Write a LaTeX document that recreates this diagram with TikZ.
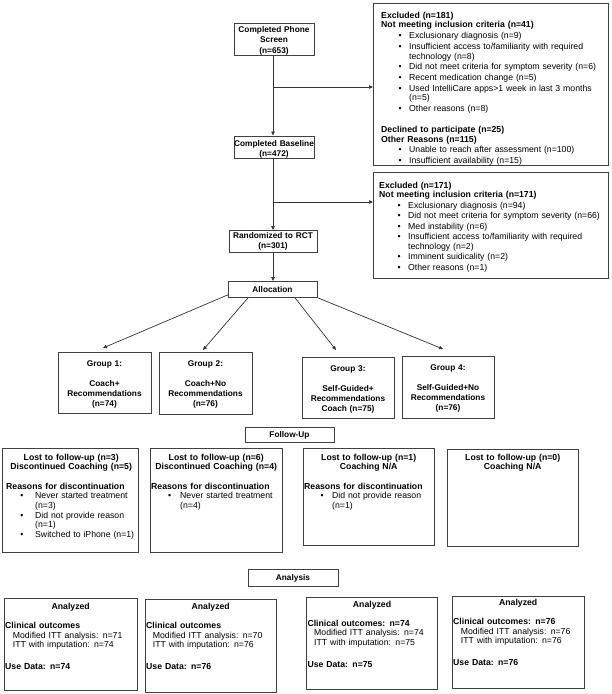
\documentclass[tikz,border=0pt]{standalone}
\usepackage{fontspec}
\setmainfont{Liberation Sans}
\usetikzlibrary{calc,arrows.meta}
\setlength{\parindent}{0pt}
\newlength\bleft \newlength\bgap \newlength\itemgap
\newcommand\bset[3]{\setlength\bleft{#1}\setlength\bgap{#2}\setlength\itemgap{#3}}
\newcommand\bitem[1]{\par\vskip\itemgap{\leftskip=\bleft\relax\noindent\llap{\textbullet\hspace{\bgap}}#1\par}}
\begin{document}
\begin{tikzpicture}[x=1pt,y=-1pt,
  box/.style={draw=black!75,line width=0.8pt,inner sep=0pt,anchor=north west},
  ctx/.style={inner sep=0pt,anchor=base,align=center,text width=110pt,font=\fontsize{8.3}{10.3}\selectfont\bfseries},
  gtx/.style={inner sep=0pt,anchor=base,align=center,text width=90pt,font=\fontsize{8.3}{10}\selectfont\bfseries},
  ltx/.style={inner sep=0pt,anchor=base west,align=left,font=\fontsize{8.7}{9.7}\selectfont},
  atx/.style={inner sep=0pt,anchor=base west,align=left,font=\fontsize{8.7}{9.5}\selectfont},
  arr/.style={draw=black!80,line width=0.7pt,-{Triangle[length=4pt,width=3.5pt]}},
  ln/.style={draw=black!80,line width=0.7pt}]
\useasboundingbox (0,0) rectangle (611,694);

% ---------- main column ----------
\node[box,minimum width=80pt,minimum height=32pt] (phone) at (234,23) {};
\node[ctx] (phonet) at (274,32.5) {Completed Phone\\Screen\\(n=653)};

\node[box,minimum width=80pt,minimum height=22pt] (base) at (234,135.5) {};
\node[ctx,font=\fontsize{8.3}{9.4}\selectfont\bfseries] (baset) at (274,146.6) {Completed Baseline\\(n=472)};

\node[box,minimum width=88pt,minimum height=22pt] (rand) at (229,230) {};
\node[ctx,font=\fontsize{8.3}{9.4}\selectfont\bfseries] (randt) at (273,238.8) {Randomized to RCT\\(n=301)};

\node[box,minimum width=89pt,minimum height=16pt] (alloc) at (228,281) {};
\node[ctx] (alloct) at (272.5,292) {Allocation};

% ---------- exclusion boxes ----------
\node[box,minimum width=235pt,minimum height=162pt] (ex1) at (373,3) {};
\node[ltx,text width=225pt] (ex1t) at (381,18.2) {\bset{28pt}{7.5pt}{1pt}%
\textbf{Excluded (n=181)}\par
\textbf{Not meeting inclusion criteria (n=41)}
\bitem{Exclusionary diagnosis (n=9)}
\bitem{Insufficient access to/familiarity with required\newline technology (n=8)}
\bitem{Did not meet criteria for symptom severity (n=6)}
\bitem{Recent medication change (n=5)}
\bitem{Used IntelliCare apps>1 week in last 3 months\newline (n=5)}
\bitem{Other reasons (n=8)}
\vskip 11.3pt
\textbf{Declined to participate (n=25)}\par
\textbf{Other Reasons (n=115)}
\bitem{Unable to reach after assessment (n=100)}
\bitem{Insufficient availability (n=15)}};

\node[box,minimum width=235pt,minimum height=106pt] (ex2) at (373,172) {};
\node[ltx,text width=226pt] (ex2t) at (379,188) {\bset{29pt}{7.5pt}{0.8pt}%
\textbf{Excluded (n=171)}\par
\textbf{Not meeting inclusion criteria (n=171)}
\bitem{Exclusionary diagnosis (n=94)}
\bitem{Did not meet criteria for symptom severity (n=66)}
\bitem{Med instability (n=6)}
\bitem{Insufficient access to/familiarity with required\newline technology (n=2)}
\bitem{Imminent suidicality (n=2)}
\bitem{Other reasons (n=1)}};

% ---------- connectors, top ----------
\coordinate (b1) at (273,87);
\coordinate (b2) at (273,202);
\draw[arr] (phone.south -| b1) -- (base.north -| b1);
\draw[arr] (b1) -- (b1 -| ex1.west);
\draw[arr] (base.south -| b1) -- (rand.north -| b1);
\draw[arr] (b2) -- (b2 -| ex2.west);
\draw[arr] (rand.south -| b1) -- (alloc.north -| b1);

% ---------- groups ----------
\node[box,minimum width=93pt,minimum height=61pt] (g1) at (58,352) {};
\node[gtx] (g1t) at (104.5,366) {Group 1:\\[10pt]Coach+\\Recommendations\\(n=74)};
\node[box,minimum width=93pt,minimum height=62pt] (g2) at (159,352) {};
\node[gtx] (g2t) at (205.5,366) {Group 2:\\[10pt]Coach+No\\Recommendations\\(n=76)};
\node[box,minimum width=92pt,minimum height=61pt] (g3) at (302,357) {};
\node[gtx] (g3t) at (348,371.3) {Group 3:\\[10pt]Self-Guided+\\Recommendations\\Coach (n=75)};
\node[box,minimum width=92pt,minimum height=62pt] (g4) at (402,356) {};
\node[gtx] (g4t) at (448,370.5) {Group 4:\\[10pt]Self-Guided+No\\Recommendations\\(n=76)};

\coordinate (t1) at (103,348);
\coordinate (t2) at (203,350);
\coordinate (t3) at (336,350);
\coordinate (t4) at (443,349);
\draw[arr] ($(alloc.south west)+(0,-3)$) -- (t1);
\draw[arr] ($(alloc.south west)+(20,0)$) -- (t2);
\draw[arr] ($(alloc.south west)+(67,0)$) -- (t3);
\draw[arr] (alloc.south east) -- (t4);

% ---------- follow-up ----------
\node[box,minimum width=89pt,minimum height=15pt] (fu) at (245,427) {};
\node[ctx] (fut) at (289.5,437.6) {Follow-Up};

\node[box,minimum width=136pt,minimum height=104pt] (f1) at (2,448) {};
\node[ltx,text width=130pt] (f1t) at (6,460) {\bset{29pt}{11.8pt}{0pt}%
{\centering\bfseries Lost to follow-up (n=3)\\Discontinued Coaching (n=5)\par}
\vskip 9.7pt
\textbf{Reasons for discontinuation}
\bitem{Never started treatment\newline(n=3)}
\bitem{Did not provide reason\newline(n=1)}
\bitem{Switched to iPhone (n=1)}};

\node[box,minimum width=132pt,minimum height=104pt] (f2) at (150,448) {};
\node[ltx,text width=130pt] (f2t) at (151,460) {\bset{29pt}{9pt}{0pt}%
{\centering\bfseries Lost to follow-up (n=6)\\Discontinued Coaching (n=4)\par}
\vskip 9.7pt
\textbf{Reasons for discontinuation}
\bitem{Never started treatment\newline(n=4)}};

\node[box,minimum width=131pt,minimum height=97pt] (f3) at (303,448) {};
\node[ltx,text width=129pt] (f3t) at (304,460) {\bset{28pt}{8.5pt}{0pt}%
{\centering\bfseries Lost to follow-up (n=1)\\Coaching N/A\par}
\vskip 9.7pt
\textbf{Reasons for discontinuation}
\bitem{Did not provide reason\newline(n=1)}};

\node[box,minimum width=131pt,minimum height=97pt] (f4) at (447,449) {};
\node[ltx,text width=129pt] (f4t) at (448,460) {%
{\centering\bfseries Lost to follow-up (n=0)\\Coaching N/A\par}};

% ---------- analysis ----------
\node[box,minimum width=90pt,minimum height=17pt] (an) at (248,569) {};
\node[ctx] (ant) at (293,580.5) {Analysis};

\node[box,minimum width=133pt,minimum height=92pt] (a1) at (4,598) {};
\node[atx,text width=131pt] (a1t) at (5,609.7) {%
{\centering\bfseries Analyzed\par}
\vskip 9.5pt
\textbf{Clinical outcomes}\par
\hspace*{7.7pt}Modified ITT analysis: n=71\par
\hspace*{7.7pt}ITT with imputation: n=74\par
\vskip 12.5pt
\textbf{Use Data: n=74}};

\node[box,minimum width=131pt,minimum height=93pt] (a2) at (145,599) {};
\node[atx,text width=129pt] (a2t) at (146,609.7) {%
{\centering\bfseries Analyzed\par}
\vskip 9.5pt
\textbf{Clinical outcomes}\par
\hspace*{6.7pt}Modified ITT analysis: n=70\par
\hspace*{6.7pt}ITT with imputation: n=76\par
\vskip 12.5pt
\textbf{Use Data: n=76}};

\node[box,minimum width=131pt,minimum height=92pt] (a3) at (306,597) {};
\node[atx,text width=129pt] (a3t) at (307.3,607.3) {%
{\centering\bfseries Analyzed\par}
\vskip 9.5pt
\textbf{Clinical outcomes: n=74}\par
\hspace*{6.7pt}Modified ITT analysis: n=74\par
\hspace*{6.7pt}ITT with imputation: n=75\par
\vskip 12.5pt
\textbf{Use Data: n=75}};

\node[box,minimum width=132pt,minimum height=92pt] (a4) at (452,596) {};
\node[atx,text width=130pt] (a4t) at (453,605.7) {%
{\centering\bfseries Analyzed\par}
\vskip 9.5pt
\textbf{Clinical outcomes: n=76}\par
\hspace*{7.7pt}Modified ITT analysis: n=76\par
\hspace*{7.7pt}ITT with imputation: n=76\par
\vskip 12.5pt
\textbf{Use Data: n=76}};
\end{tikzpicture}
\end{document}
